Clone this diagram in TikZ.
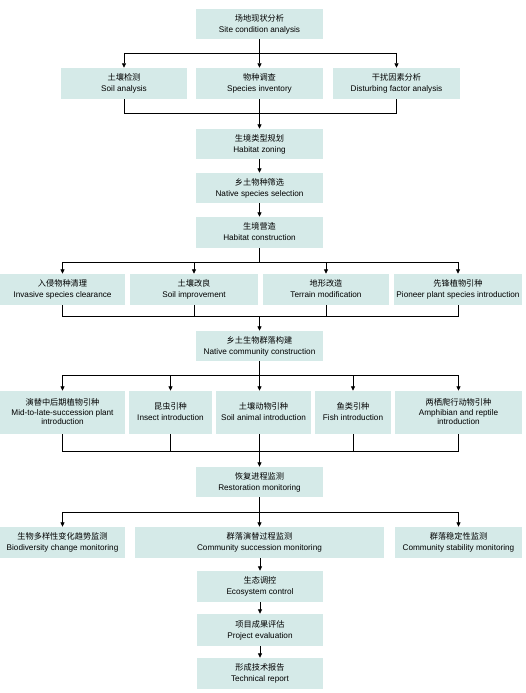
\documentclass[tikz,border=0pt]{standalone}
\usepackage{fontspec}
\setmainfont{Liberation Sans}
\newfontfamily\cjk{Noto Sans CJK SC}
\usetikzlibrary{arrows.meta}
\definecolor{boxfill}{HTML}{D5EAE8}
\tikzset{
  box/.style={fill=boxfill, draw=none, inner sep=0pt, align=center, font=\fontsize{8.2}{11}\selectfont},
  tightbox/.style={font=\fontsize{8.2}{9.5}\selectfont},
  conn/.style={line width=0.8pt, black},
  arr/.style={conn, -{Triangle[length=4.5pt,width=4pt]}},
}
\newcommand\mybox[8][]{\node[box,#1,minimum width={#4-#3},minimum height={#6-#5}] (#2) at ({(#3+#4)/2},{(#5+#6)/2}) {{\cjk #7}\\#8\vphantom{gy}};}
\begin{document}
\begin{tikzpicture}[x=1pt,y=-1pt]
\useasboundingbox (0,0) rectangle (525,693);
\mybox{site}{196}{323}{9}{39}{场地现状分析}{Site condition analysis}
\mybox{soil}{61}{187}{68}{99}{土壤检测}{Soil analysis}
\mybox{species}{196}{323}{68}{99}{物种调查}{Species inventory}
\mybox{disturb}{333}{460}{68}{99}{干扰因素分析}{Disturbing factor analysis}
\mybox{zoning}{196}{323}{129}{159}{生境类型规划}{Habitat zoning}
\mybox{native}{196}{323}{173}{203}{乡土物种筛选}{Native species selection}
\mybox{construct}{196}{323}{217}{248}{生境营造}{Habitat construction}
\mybox{invasive}{0}{125}{274}{305}{入侵物种清理}{Invasive species clearance}
\mybox{soilimp}{130}{258}{274}{305}{土壤改良}{Soil improvement}
\mybox{terrain}{263}{389}{274}{305}{地形改造}{Terrain modification}
\mybox{pioneer}{394}{522}{274}{305}{先锋植物引种}{Pioneer plant species introduction}
\mybox{community}{196}{323}{331}{361}{乡土生物群落构建}{Native community construction}
\mybox[tightbox]{mid}{0}{125}{391}{434}{演替中后期植物引种}{Mid-to-late-succession plant\\introduction}
\mybox{insect}{129}{212}{391}{434}{昆虫引种}{Insect introduction}
\mybox{soilanimal}{216}{311}{391}{434}{土壤动物引种}{Soil animal introduction}
\mybox{fish}{315}{391}{391}{434}{鱼类引种}{Fish introduction}
\mybox[tightbox]{amphib}{395}{522}{391}{434}{两栖爬行动物引种}{Amphibian and reptile\\introduction}
\mybox{restoration}{196}{323}{467}{497}{恢复进程监测}{Restoration monitoring}
\mybox{biodiv}{0}{125}{527}{558}{生物多样性变化趋势监测}{Biodiversity change monitoring}
\mybox{succession}{135}{384}{527}{558}{群落演替过程监测}{Community succession monitoring}
\mybox{stability}{395}{522}{527}{558}{群落稳定性监测}{Community stability monitoring}
\mybox{eco}{197}{323}{571}{602}{生态调控}{Ecosystem control}
\mybox{project}{197}{323}{614}{646}{项目成果评估}{Project evaluation}
\mybox{report}{197}{323}{658}{689}{形成技术报告}{Technical report}
\coordinate (b1) at (0,53);
\coordinate (m1) at (0,113);
\coordinate (b2) at (0,262);
\coordinate (m2) at (0,316);
\coordinate (b3) at (0,375);
\coordinate (m3) at (0,451);
\coordinate (b4) at (0,512);
% row 1
\draw[conn] (site.south) -- (site.south |- b1);
\draw[conn] (soil.north |- b1) -- (disturb.north |- b1);
\foreach \n in {soil,species,disturb} \draw[arr] (\n.north |- b1) -- (\n.north);
\draw[conn] (soil.south) -- (soil.south |- m1) -- (disturb.south |- m1) -- (disturb.south);
\draw[conn] (species.south) -- (species.south |- m1);
\draw[arr] (zoning.north |- m1) -- (zoning.north);
\draw[arr] (zoning.south) -- (native.north);
\draw[arr] (native.south) -- (construct.north);
% row 2
\draw[conn] (construct.south) -- (construct.south |- b2);
\draw[conn] (invasive.north |- b2) -- (pioneer.north |- b2);
\foreach \n in {invasive,soilimp,terrain,pioneer} \draw[arr] (\n.north |- b2) -- (\n.north);
\draw[conn] (invasive.south) -- (invasive.south |- m2) -- (pioneer.south |- m2) -- (pioneer.south);
\draw[conn] (soilimp.south) -- (soilimp.south |- m2);
\draw[conn] (terrain.south) -- (terrain.south |- m2);
\draw[arr] (community.north |- m2) -- (community.north);
% row 3
\draw[conn] (community.south) -- (community.south |- b3);
\draw[conn] (mid.north |- b3) -- (amphib.north |- b3);
\foreach \n in {mid,insect,fish,amphib} \draw[arr] (\n.north |- b3) -- (\n.north);
\draw[arr] (community.south |- b3) -- (community.south |- soilanimal.north);
\draw[conn] (mid.south) -- (mid.south |- m3) -- (amphib.south |- m3) -- (amphib.south);
\draw[conn] (insect.south) -- (insect.south |- m3);
\draw[conn] (fish.south) -- (fish.south |- m3);
\draw[conn] (community.south |- soilanimal.south) -- (community.south |- m3);
\draw[arr] (restoration.north |- m3) -- (restoration.north);
% row 4
\draw[conn] (restoration.south) -- (restoration.south |- b4);
\draw[conn] (biodiv.north |- b4) -- (stability.north |- b4);
\foreach \n in {biodiv,succession,stability} \draw[arr] (\n.north |- b4) -- (\n.north);
\draw[arr] (eco.north |- succession.south) -- (eco.north);
\draw[arr] (eco.south) -- (project.north);
\draw[arr] (project.south) -- (report.north);
\end{tikzpicture}
\end{document}
